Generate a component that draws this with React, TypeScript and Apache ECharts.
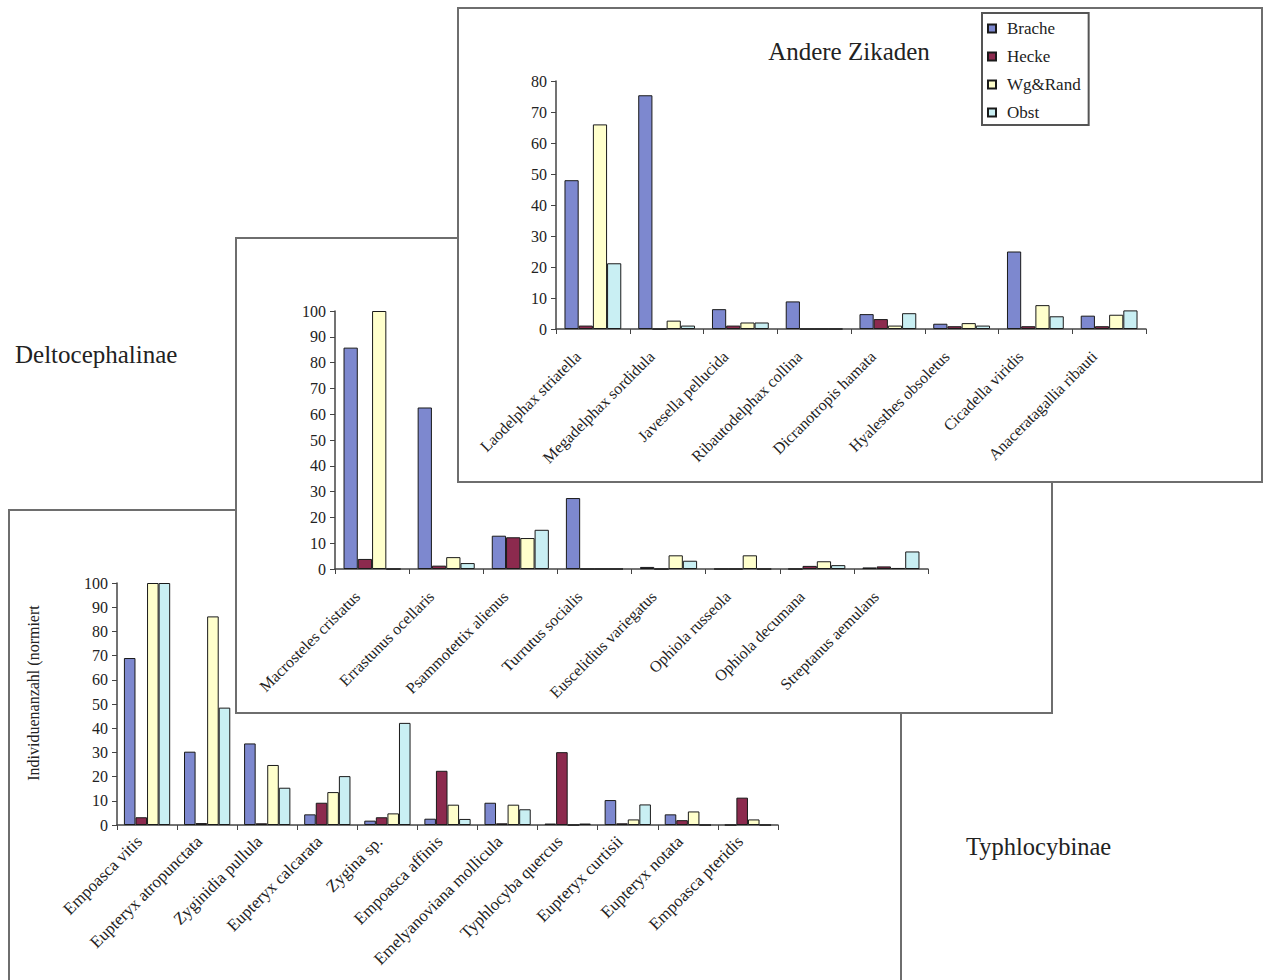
import React, { useEffect, useRef } from "react";
import * as echarts from "echarts";

const seriesNames = ["Brache", "Hecke", "Wg&Rand", "Obst"];
const seriesColors = ["#7d88cf", "#8c2a4e", "#ffffcc", "#c9eff3"];

// Typhlocybinae (back panel)
const typhCategories = [
  "Empoasca vitis", "Eupteryx atropunctata", "Zyginidia pullula", "Eupteryx calcarata",
  "Zygina sp.", "Empoasca affinis", "Emelyanoviana mollicula", "Typhlocyba quercus",
  "Eupteryx curtisii", "Eupteryx notata", "Empoasca pteridis",
];
const typhBrache = [69, 30.3, 33.7, 4.4, 1.8, 2.6, 9.2, 0.6, 10.3, 4.4, 0];
const typhHecke = [3.2, 0.8, 0.7, 9.2, 3.2, 22.4, 0.7, 30.1, 0.7, 2, 11.3];
const typhWgRand = [100, 86.2, 24.8, 13.6, 4.8, 8.4, 8.4, 0, 2.3, 5.6, 2.3];
const typhObst = [100, 48.5, 15.4, 20.2, 42.2, 2.5, 6.5, 0.6, 8.5, 0, 0];

// Deltocephalinae (middle panel)
const deltoCategories = [
  "Macrosteles cristatus", "Errastunus ocellaris", "Psammotettix alienus", "Turrutus socialis",
  "Euscelidius variegatus", "Ophiola russeola", "Ophiola decumana", "Streptanus aemulans",
];
const deltoBrache = [85.8, 62.6, 12.9, 27.5, 0.8, 0, 0, 0.6];
const deltoHecke = [3.9, 1.3, 12.3, 0, 0, 0, 1.2, 1];
const deltoWgRand = [100, 4.6, 12, 0, 5.3, 5.3, 3, 0.4];
const deltoObst = [0, 2.3, 15.2, 0, 3.2, 0, 1.5, 6.8];

// Andere Zikaden (front panel)
const andereCategories = [
  "Laodelphax striatella", "Megadelphax sordidula", "Javesella pellucida", "Ribautodelphax collina",
  "Dicranotropis hamata", "Hyalesthes obsoletus", "Cicadella viridis", "Anaceratagallia ribauti",
];
const andereBrache = [48, 75.4, 6.4, 8.9, 4.8, 1.7, 25, 4.3];
const andereHecke = [1.1, 0, 1.1, 0, 3.2, 0.9, 0.9, 0.9];
const andereWgRand = [66, 2.7, 2.1, 0, 1.1, 1.9, 7.7, 4.6];
const andereObst = [21.2, 1.1, 2.1, 0, 5.1, 1.1, 4.1, 6];

const yTicksTyph = { max: 100, interval: 10 };
const yTicksDelto = { max: 100, interval: 10 };
const yTicksAndere = { max: 80, interval: 10 };

const FONT = "'Liberation Serif', 'Times New Roman', serif";

function makeSeries(values: number[][]) {
  return values.map((vals, i) => ({
    name: seriesNames[i],
    type: "bar",
    data: vals,
    barGap: "0%",
    barCategoryGap: "23%",
    itemStyle: { color: seriesColors[i], borderColor: "#1a1a1a", borderWidth: 1 },
  }));
}

function makeOption(
  cats: string[],
  values: number[][],
  yt: { max: number; interval: number },
  grid: any,
  labelSize: number,
  labelPad: number,
  labelMargin: number,
  extra: any = {}
) {
  return {
    animation: false,
    textStyle: { fontFamily: FONT },
    grid,
    xAxis: {
      type: "category",
      data: cats,
      axisLine: { lineStyle: { color: "#444", width: 1.5 } },
      axisTick: { show: true, length: 5, lineStyle: { color: "#444" } },
      axisLabel: {
        interval: 0,
        rotate: 45,
        margin: labelMargin,
        verticalAlign: "middle",
        padding: [0, labelPad, 0, 0],
        fontSize: labelSize,
        color: "#222",
        fontFamily: FONT,
      },
    },
    yAxis: {
      type: "value",
      min: 0,
      max: yt.max,
      interval: yt.interval,
      splitLine: { show: false },
      axisLine: { show: true, lineStyle: { color: "#444", width: 1.5 } },
      axisTick: { show: true, length: 5, lineStyle: { color: "#444" } },
      axisLabel: { fontSize: 16, color: "#222", margin: 9, fontFamily: FONT },
    },
    series: makeSeries(values),
    ...extra,
  };
}

function Chart({ option, style }: { option: any; style: React.CSSProperties }) {
  const ref = useRef<HTMLDivElement>(null);
  useEffect(() => {
    if (!ref.current) return;
    const chart = echarts.init(ref.current, undefined, { renderer: "svg" });
    chart.setOption(option);
    return () => chart.dispose();
  }, []);
  return <div ref={ref} style={style} />;
}

const panelBase: React.CSSProperties = {
  position: "absolute",
  boxSizing: "border-box",
  border: "2px solid #6e6e6e",
  background: "#fff",
};

export default function App() {
  const bgOption = {
    animation: false,
    graphic: [
      {
        type: "text",
        left: 15,
        top: 342,
        style: { text: "Deltocephalinae", fontFamily: FONT, fontSize: 25, fill: "#222" },
      },
      {
        type: "text",
        left: 966,
        top: 834,
        style: { text: "Typhlocybinae", fontFamily: FONT, fontSize: 24.5, fill: "#222" },
      },
    ],
  };

  const typhOption = makeOption(
    typhCategories,
    [typhBrache, typhHecke, typhWgRand, typhObst],
    yTicksTyph,
    { left: 107, top: 72, width: 661, height: 242 },
    17,
    11,
    6,
    {
      graphic: [
        {
          type: "text",
          x: 23,
          y: 182,
          rotation: Math.PI / 2,
          style: {
            text: "Individuenanzahl (normiert",
            fontFamily: FONT,
            fontSize: 16,
            fill: "#222",
            align: "center",
            verticalAlign: "middle",
          },
        },
      ],
    }
  );

  const deltoOption = makeOption(
    deltoCategories,
    [deltoBrache, deltoHecke, deltoWgRand, deltoObst],
    yTicksDelto,
    { left: 98, top: 72, width: 593, height: 258 },
    16,
    21,
    10
  );

  const andereOption = makeOption(
    andereCategories,
    [andereBrache, andereHecke, andereWgRand, andereObst],
    yTicksAndere,
    { left: 97, top: 72, width: 590, height: 248 },
    16,
    21,
    10,
    {
      title: {
        text: "Andere Zikaden",
        left: 385,
        top: 25,
        textAlign: "center",
        textStyle: { fontFamily: FONT, fontSize: 25, fontWeight: "normal", color: "#222" },
      },
      legend: {
        orient: "vertical",
        left: 523,
        top: 4,
        icon: "rect",
        itemWidth: 8,
        itemHeight: 8,
        itemGap: 11,
        padding: [7, 8, 4, 5],
        borderColor: "#555",
        borderWidth: 2,
        textStyle: { fontFamily: FONT, fontSize: 17, lineHeight: 17, color: "#222", padding: [0, 0, 0, 6] },
        data: seriesNames,
      },
    }
  );

  return (
    <div
      style={{
        position: "fixed",
        left: 0,
        top: 0,
        width: 1263,
        height: 980,
        overflow: "hidden",
        background: "#fff",
      }}
    >
      <Chart option={bgOption} style={{ position: "absolute", left: 0, top: 0, width: 1263, height: 980 }} />
      <div style={{ ...panelBase, left: 8, top: 509, width: 894, height: 520 }}>
        <Chart option={typhOption} style={{ width: 890, height: 516 }} />
      </div>
      <div style={{ ...panelBase, left: 235, top: 237, width: 818, height: 477 }}>
        <Chart option={deltoOption} style={{ width: 814, height: 473 }} />
      </div>
      <div style={{ ...panelBase, left: 457, top: 7, width: 806, height: 476 }}>
        <Chart option={andereOption} style={{ width: 802, height: 472 }} />
      </div>
    </div>
  );
}
